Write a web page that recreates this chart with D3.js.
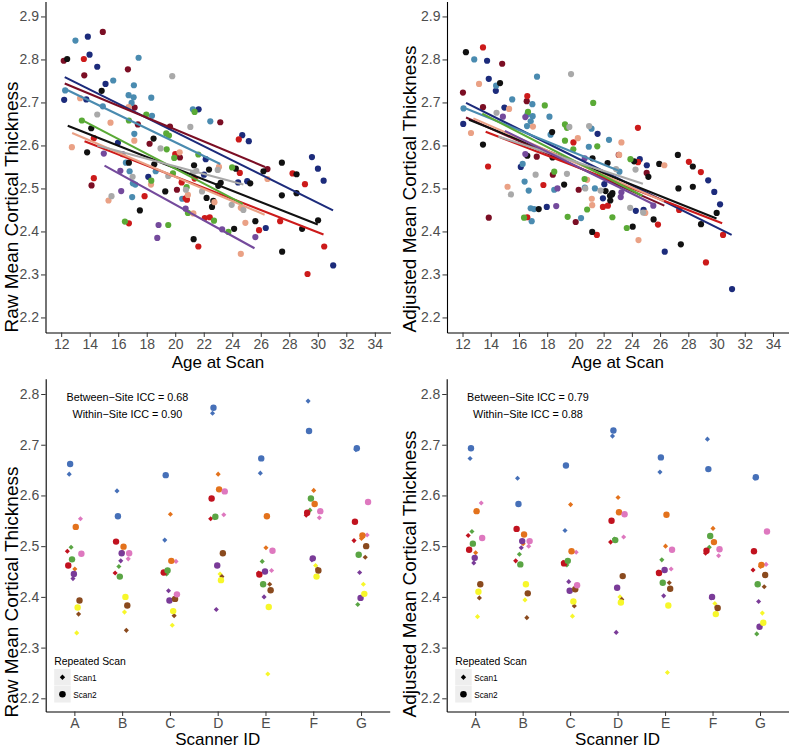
<!DOCTYPE html>
<html><head><meta charset="utf-8">
<script src="https://cdn.jsdelivr.net/npm/d3@7"></script>
<style>body{margin:0;background:#fff;} svg text{font-family:"Liberation Sans",Arial,Helvetica,sans-serif;}</style>
</head><body><svg id="c" width="790" height="748"></svg>
<script>
// ---------- Top panels: thickness vs age, by site ----------
const sites = ["Site 1","Site 2","Site 3","Site 4","Site 5","Site 6","Site 7","Site 8","Site 9"];
const siteColors = ["#1c2b7b","#7b0e24","#4a8bb0","#cc1a1a","#111111","#eaa185","#5aaa36","#a9a9a9","#744a9c"];
const ageTicks = [12,14,16,18,20,22,24,26,28,30,32,34];
const topYTicks = [2.2,2.3,2.4,2.5,2.6,2.7,2.8,2.9];

const rawSite1 = [[13.87,2.853],[13.99,2.811],[14.53,2.783],[15.11,2.743],[12.21,2.706],[13.76,2.707],[21.64,2.684],[15.98,2.606],[22.14,2.568],[24.7,2.624],[25.16,2.61],[25.05,2.517],[24.41,2.514],[29.59,2.573],[30.01,2.546],[30.41,2.518],[18.11,2.527],[22.02,2.532],[26.35,2.408],[31.08,2.321]];
const rawSite2 = [[14.92,2.864],[12.18,2.797],[16.68,2.777],[13.62,2.763],[17.15,2.688],[17.38,2.649],[19.63,2.644],[23.16,2.654],[18.2,2.604],[20.33,2.572],[26.47,2.545],[14.13,2.507],[20.12,2.497]];
const rawSite3 = [[13.0,2.844],[17.43,2.804],[15.65,2.751],[17.1,2.74],[12.28,2.728],[16.73,2.717],[17.08,2.712],[16.94,2.699],[18.32,2.711],[14.92,2.691],[18.37,2.669],[21.24,2.684],[22.46,2.656],[17.13,2.627],[16.54,2.56],[16.8,2.54],[18.63,2.54],[17.03,2.512],[17.2,2.509],[16.98,2.48],[20.49,2.476]];
const rawSite4 = [[13.59,2.801],[14.29,2.617],[20.0,2.58],[24.46,2.614],[24.53,2.536],[28.23,2.535],[29.1,2.51],[20.45,2.514],[21.36,2.523],[14.29,2.524],[17.85,2.482],[20.82,2.474],[22.07,2.431],[22.42,2.433],[25.88,2.403],[27.36,2.424],[30.45,2.365],[29.28,2.301],[16.75,2.419],[21.62,2.365],[20.73,2.477]];
const rawSite5 = [[12.42,2.801],[14.84,2.727],[14.11,2.64],[18.48,2.616],[13.82,2.584],[16.75,2.56],[18.53,2.556],[21.32,2.554],[22.37,2.544],[24.25,2.546],[25.26,2.512],[26.19,2.54],[27.48,2.56],[28.51,2.533],[23.19,2.513],[23.02,2.506],[19.3,2.493],[22.2,2.478],[22.67,2.471],[22.58,2.457],[24.13,2.406],[25.62,2.424],[27.5,2.353],[28.9,2.406],[30.02,2.426],[27.48,2.484],[28.51,2.489],[17.52,2.449],[21.29,2.382]];
const rawSite6 = [[13.33,2.71],[15.46,2.653],[17.13,2.611],[12.75,2.596],[20.31,2.584],[23.07,2.55],[26.47,2.522],[18.3,2.509],[15.32,2.472],[20.89,2.485],[21.27,2.442],[24.6,2.455],[24.92,2.42],[24.6,2.348],[22.75,2.468],[16.73,2.689]];
const rawSite7 = [[17.97,2.672],[16.75,2.658],[13.45,2.658],[21.36,2.678],[19.37,2.628],[19.56,2.623],[19.4,2.591],[19.93,2.571],[21.62,2.579],[23.99,2.549],[18.32,2.518],[19.84,2.535],[20.8,2.503],[20.89,2.443],[22.72,2.425],[23.73,2.399],[16.47,2.423],[19.51,2.415]];
const rawSite8 = [[19.79,2.761],[14.53,2.672],[21.06,2.643],[18.97,2.593],[22.98,2.543],[17.01,2.527],[19.51,2.529],[21.24,2.536],[21.48,2.541],[15.53,2.482],[20.75,2.497],[21.88,2.493],[23.96,2.462],[24.78,2.45]];
const rawSite9 = [[14.99,2.581],[16.3,2.58],[16.15,2.541],[16.21,2.494],[20.73,2.453],[23.29,2.405],[25.62,2.387],[18.83,2.415],[18.74,2.385]];

const adjSite1 = [[13.74,2.797],[13.86,2.755],[14.36,2.727],[14.97,2.688],[12.05,2.65],[21.57,2.627],[24.56,2.568],[25.06,2.554],[29.41,2.519],[29.84,2.492],[16.13,2.55],[21.95,2.477],[17.97,2.457],[22.05,2.51],[24.28,2.448],[24.83,2.45],[26.33,2.353],[30.25,2.463],[31.1,2.266]];
const adjSite2 = [[14.81,2.79],[12.03,2.723],[16.55,2.703],[13.45,2.689],[17.26,2.574],[23.07,2.578],[25.05,2.536],[18.4,2.532],[20.23,2.497],[13.86,2.432],[20.02,2.422]];
const adjSite3 = [[12.83,2.8],[14.38,2.739],[17.28,2.76],[15.52,2.707],[16.95,2.696],[12.07,2.686],[16.59,2.672],[16.97,2.668],[18.16,2.667],[16.83,2.656],[16.57,2.645],[21.14,2.639],[18.24,2.625],[20.95,2.597],[22.38,2.613],[23.12,2.539],[16.26,2.557],[16.4,2.516],[16.69,2.495],[18.5,2.497],[20.67,2.502],[21.38,2.5],[16.83,2.454],[17.07,2.452],[16.9,2.424],[20.4,2.431]];
const adjSite4 = [[13.45,2.828],[16.59,2.715],[24.43,2.641],[19.86,2.607],[13.81,2.551],[24.44,2.561],[28.04,2.562],[28.89,2.538],[17.73,2.508],[16.59,2.433],[21.52,2.392],[21.95,2.457],[22.3,2.46],[25.85,2.416],[27.35,2.45],[29.25,2.328],[30.46,2.392]];
const adjSite5 = [[12.24,2.817],[14.66,2.745],[18.35,2.631],[13.45,2.602],[16.59,2.576],[18.38,2.572],[21.21,2.57],[22.28,2.559],[24.16,2.563],[25.94,2.557],[27.26,2.578],[28.32,2.551],[27.3,2.5],[28.32,2.504],[25.17,2.527],[19.2,2.509],[22.14,2.494],[22.62,2.489],[17.4,2.452],[21.19,2.399],[22.45,2.483],[22.59,2.486],[22.47,2.472],[24.06,2.411],[25.54,2.428],[27.47,2.37],[28.9,2.417],[30.01,2.443]];
const adjSite6 = [[13.17,2.743],[15.3,2.685],[12.6,2.629],[16.99,2.644],[20.17,2.617],[23.26,2.607],[23.1,2.578],[26.3,2.554],[15.19,2.504],[20.83,2.52],[21.16,2.476],[21.19,2.461],[24.47,2.38],[24.95,2.443]];
const adjSite7 = [[17.83,2.693],[21.26,2.699],[16.64,2.678],[19.26,2.649],[19.4,2.641],[19.26,2.611],[21.55,2.598],[19.85,2.591],[23.9,2.568],[18.5,2.539],[20.65,2.522],[16.36,2.432],[19.45,2.434],[20.83,2.451],[22.62,2.433],[23.64,2.408]];
const adjSite8 = [[19.69,2.766],[14.41,2.676],[19.57,2.643],[20.97,2.645],[24.26,2.544],[22.88,2.545],[17.18,2.532],[19.4,2.534],[15.43,2.486],[21.78,2.495],[20.7,2.5],[23.88,2.455],[24.8,2.444]];
const adjSite9 = [[16.45,2.666],[14.86,2.667],[16.45,2.58],[20.66,2.57],[18.73,2.5],[23.26,2.491],[18.64,2.459],[23.21,2.48],[25.52,2.46]];

// fitted lines per site: [ageStart, valueStart, ageEnd, valueEnd]
const rawFits = [[12.25,2.759,31.07,2.449],[12.25,2.744,26.3,2.55],[12.24,2.732,23.16,2.557],[13.64,2.61,30.4,2.393],[12.46,2.646,30.0,2.416],[12.77,2.629,26.27,2.439],[13.4,2.66,24.74,2.464],[14.53,2.6,24.78,2.509],[15.04,2.553,25.56,2.361]];
const adjFits = [[12.25,2.699,31.07,2.392],[12.25,2.665,26.3,2.46],[12.24,2.686,23.16,2.54],[13.64,2.632,30.4,2.419],[12.46,2.66,30.0,2.43],[12.77,2.663,26.27,2.47],[13.4,2.674,24.74,2.483],[14.53,2.621,24.78,2.511],[15.0,2.634,25.6,2.462]];

// ---------- Bottom panels: thickness by scanner, by subject ----------
const scanners = ["A","B","C","D","E","F","G"];
const subjects = ["Subject 1","Subject 2","Subject 3","Subject 4","Subject 5","Subject 6","Subject 7","Subject 8"];
const subjectColors = ["#c1121f","#4670b8","#5aa544","#7a3b98","#e3721c","#f7f72a","#8a4a1e","#de78bf"];
const scanLabels = ["Scan1","Scan2"];
const bottomYTicks = [2.2,2.3,2.4,2.5,2.6,2.7,2.8];

const rawScan1 = [
 [2.490,2.447,2.447,2.554,2.447,2.561,2.511],
 [2.642,2.609,2.512,2.762,2.644,2.786,2.690],
 [2.498,2.460,2.445,2.556,2.470,2.571,2.385],
 [2.436,2.471,2.412,2.375,2.400,2.473,2.448],
 [2.455,2.488,2.563,2.642,2.497,2.610,2.515],
 [2.329,2.370,2.344,2.445,2.248,2.462,2.425],
 [2.366,2.334,2.363,2.440,2.425,2.455,2.478],
 [2.554,2.475,2.470,2.562,2.452,2.556,2.522]];
const rawScan2 = [
 [2.462,2.509,2.448,2.594,2.444,2.566,2.548],
 [2.662,2.559,2.640,2.773,2.673,2.727,2.693],
 [2.474,2.440,2.452,2.558,2.425,2.594,2.483],
 [2.445,2.486,2.393,2.462,2.450,2.476,2.398],
 [2.538,2.499,2.471,2.612,2.559,2.583,2.521],
 [2.379,2.400,2.372,2.433,2.380,2.440,2.406],
 [2.393,2.383,2.396,2.486,2.413,2.452,2.500],
 [2.485,2.486,2.405,2.608,2.491,2.569,2.587]];
const adjScan1 = [
 [2.521,2.471,2.468,2.508,2.449,2.486,2.453],
 [2.673,2.634,2.531,2.717,2.646,2.711,2.634],
 [2.529,2.484,2.463,2.514,2.473,2.498,2.327],
 [2.467,2.497,2.430,2.330,2.402,2.398,2.391],
 [2.487,2.505,2.582,2.596,2.500,2.535,2.460],
 [2.361,2.394,2.362,2.400,2.251,2.387,2.368],
 [2.398,2.359,2.382,2.395,2.428,2.380,2.420],
 [2.585,2.500,2.488,2.518,2.455,2.481,2.464]];
const adjScan2 = [
 [2.493,2.534,2.466,2.550,2.447,2.491,2.490],
 [2.693,2.583,2.659,2.728,2.675,2.652,2.636],
 [2.505,2.464,2.471,2.512,2.428,2.520,2.425],
 [2.477,2.510,2.412,2.418,2.453,2.400,2.341],
 [2.569,2.523,2.490,2.567,2.562,2.508,2.463],
 [2.410,2.425,2.391,2.389,2.383,2.366,2.349],
 [2.425,2.407,2.415,2.441,2.416,2.378,2.443],
 [2.516,2.510,2.423,2.563,2.493,2.494,2.529]];
const rawICC = ["Between\u2212Site ICC = 0.68","Within\u2212Site ICC = 0.90"];
const adjICC = ["Between\u2212Site ICC = 0.79","Within\u2212Site ICC = 0.88"];

// ---------- drawing ----------
const svg = d3.select("#c");
const FONT = '"Liberation Sans", Arial, Helvetica, sans-serif';

function styleAxis(sel){
  sel.attr("font-family",FONT).attr("font-size",14);
  sel.select(".domain").attr("stroke","#000").attr("stroke-width",1.1);
  sel.selectAll(".tick line").attr("stroke","#333").attr("stroke-width",1);
  sel.selectAll(".tick text").attr("fill","#4d4d4d");
}

function scatterPanel(x0,x1,pts,fits,ytitle,titleX){
  const x = d3.scaleLinear().domain([10.9,35.1]).range([x0,x1]);
  const y = d3.scaleLinear().domain([2.165,2.935]).range([332.5,1.4]);
  const g = svg.append("g");
  pts.forEach((arr,i)=>{
    g.append("g").selectAll("circle").data(arr).join("circle")
      .attr("cx",d=>x(d[0])).attr("cy",d=>y(d[1])).attr("r",3.1)
      .attr("fill",siteColors[i]);
  });
  g.append("g").selectAll("line").data(fits).join("line")
    .attr("x1",d=>x(d[0])).attr("y1",d=>y(d[1]))
    .attr("x2",d=>x(d[2])).attr("y2",d=>y(d[3]))
    .attr("stroke",(d,i)=>siteColors[i]).attr("stroke-width",2.1);
  g.append("g").attr("transform",`translate(0,${y(2.165)})`)
    .call(d3.axisBottom(x).tickValues(ageTicks).tickFormat(d3.format("d")).tickSize(4.5).tickSizeOuter(0).tickPadding(2))
    .call(styleAxis);
  g.append("g").attr("transform",`translate(${x(10.9)},0)`)
    .call(d3.axisLeft(y).tickValues(topYTicks).tickFormat(d3.format(".1f")).tickSize(4.5).tickSizeOuter(0).tickPadding(2))
    .call(styleAxis);
  g.append("text").attr("x",(x0+x1)/2).attr("y",368).attr("text-anchor","middle")
    .attr("font-size",17).attr("fill","#000").text("Age at Scan");
  g.append("text").attr("transform",`translate(${titleX},${y.range()[0]}) rotate(-90)`)
    .attr("text-anchor","start").attr("dy","0.35em").attr("font-size",19).attr("fill","#000").text(ytitle);
}

function scannerPanel(x0,x1,s1,s2,ytitle,titleX,icc){
  const x = d3.scalePoint().domain(scanners).range([x0,x1]).padding(0.6);
  const y = d3.scaleLinear().domain([2.174,2.83]).range([711.5,378.8]);
  const dodge = d3.scalePoint().domain(d3.range(subjects.length*2)).range([-x.step()*0.147, x.step()*0.147]);
  const g = svg.append("g");
  const pts = [];
  subjects.forEach((s,i)=>scanners.forEach((sc,j)=>{
    pts.push({subj:i,scan:0,sc,v:s1[i][j]});
    pts.push({subj:i,scan:1,sc,v:s2[i][j]});
  }));
  const diamond = d3.symbol().type(d3.symbolSquare).size(13);
  g.append("g").selectAll("path").data(pts.filter(d=>d.scan===0)).join("path")
    .attr("d",diamond)
    .attr("transform",d=>`translate(${x(d.sc)+dodge(d.subj*2)},${y(d.v)}) rotate(45)`)
    .attr("fill",d=>subjectColors[d.subj]);
  g.append("g").selectAll("circle").data(pts.filter(d=>d.scan===1)).join("circle")
    .attr("cx",d=>x(d.sc)+dodge(d.subj*2+1)).attr("cy",d=>y(d.v)).attr("r",3.2)
    .attr("fill",d=>subjectColors[d.subj]);
  g.append("g").attr("transform",`translate(0,${y(2.174)})`)
    .call(d3.axisBottom(x).tickSize(4.5).tickSizeOuter(0).tickPadding(2))
    .call(styleAxis);
  g.append("g").attr("transform",`translate(${x0},0)`)
    .call(d3.axisLeft(y).tickValues(bottomYTicks).tickFormat(d3.format(".1f")).tickSize(4.5).tickSizeOuter(0).tickPadding(2))
    .call(styleAxis);
  g.append("text").attr("x",(x0+x1)/2).attr("y",744.5).attr("text-anchor","middle")
    .attr("font-size",17).attr("fill","#000").text("Scanner ID");
  g.append("text").attr("transform",`translate(${titleX},${y.range()[0]+6}) rotate(-90)`)
    .attr("text-anchor","start").attr("dy","0.35em").attr("font-size",19).attr("fill","#000").text(ytitle);
  // ICC annotation
  const cx = x("A") + x.step()*1.11;
  g.selectAll("text.icc").data(icc).join("text").attr("class","icc")
    .attr("x",cx).attr("y",(d,i)=>401+i*16.5).attr("text-anchor","middle")
    .attr("font-size",10.8).attr("fill","#000").text(d=>d);
  // legend
  const lx = x0 + 8.5;
  const lg = g.append("g");
  lg.append("text").attr("x",lx).attr("y",665).attr("font-size",10.4).attr("fill","#000").text("Repeated Scan");
  scanLabels.forEach((lab,k)=>{
    const ky = 669 + k*17;
    lg.append("rect").attr("x",lx).attr("y",ky).attr("width",16.5).attr("height",16.5).attr("fill","#eeeeee");
    if(k===0){
      lg.append("path").attr("d",d3.symbol().type(d3.symbolSquare).size(14))
        .attr("transform",`translate(${lx+8.25},${ky+8.25}) rotate(45)`).attr("fill","#000");
    } else {
      lg.append("circle").attr("cx",lx+8.25).attr("cy",ky+8.25).attr("r",3.3).attr("fill","#000");
    }
    lg.append("text").attr("x",lx+19).attr("y",ky+11.5).attr("font-size",8.3).attr("fill","#000").text(lab);
  });
}

scatterPanel(45.5,390.5,[rawSite1,rawSite2,rawSite3,rawSite4,rawSite5,rawSite6,rawSite7,rawSite8,rawSite9],rawFits,"Raw Mean Cortical Thickness",11);
scatterPanel(447,788.5,[adjSite1,adjSite2,adjSite3,adjSite4,adjSite5,adjSite6,adjSite7,adjSite8,adjSite9],adjFits,"Adjusted Mean Cortical Thickness",409);
scannerPanel(45.7,389.7,rawScan1,rawScan2,"Raw Mean Cortical Thickness",11,rawICC);
scannerPanel(446.7,788.5,adjScan1,adjScan2,"Adjusted Mean Cortical Thickness",409,adjICC);
</script></body></html>
